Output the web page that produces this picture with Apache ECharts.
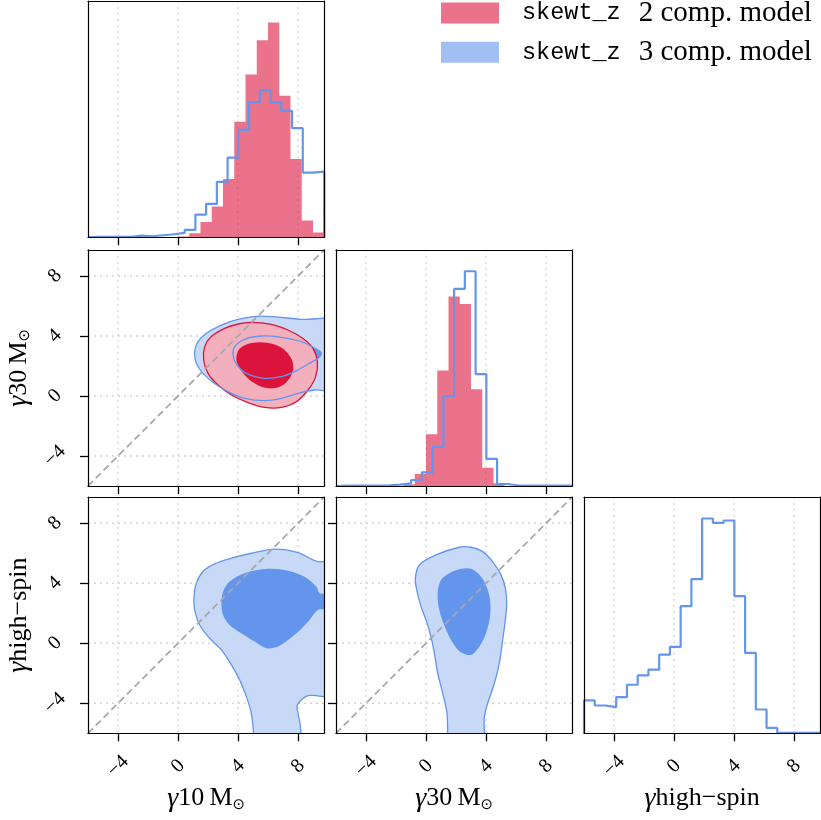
<!DOCTYPE html>
<html><head><meta charset="utf-8">
<script src="https://cdn.jsdelivr.net/npm/echarts@6/dist/echarts.min.js"></script>
<style>html,body{margin:0;padding:0;background:#fff}#c{width:821px;height:820px}</style>
</head><body><div id="c"></div>
<script>
// ---------------- data ----------------
const AX_MIN = -6, AX_MAX = 9.75;
const tickValues = [-4, 0, 4, 8];
const legendNames = ['skewt_z 2 comp. model', 'skewt_z 3 comp. model'];

// histogram heights (relative), red: 21 bins, blue: 22 bins over [AX_MIN, AX_MAX]
const redHist10  = [0,0,0,0,0,0,0,0,2,12,46,92,175,346,488,591,644,424,235,50,14];
const blueHist10 = [1.5,1.5,1.5,1.5,5,3,6,9,13,22,68,100,166,239,322,405,441,405,379,327,194,197];
const redHist30  = [0,0,0,0,0,0,5,36,155,346,567,545,290,55,8,0,0,0,0,0,0];
const blueHist30 = [1,1,1,1,2,4,8,18,41,117,269,590,643,335,81,6,1.5,1,1,1,1,1];
const blueHistHS = [98,83,78,108,145,173,190,235,258,380,461,642,629,636,410,240,71,16,1,1,1,1];

// 2D credible-region contours [x, y]
const blueOuter_10_30 = [[10.9,4.93],[8.22,5.11],[5.56,5.33],[4.0,5.11],[2.89,4.73],[1.89,4.18],[1.33,3.62],[1.11,2.96],[1.22,2.18],[1.67,1.51],[2.44,0.84],[3.33,0.29],[4.44,-0.16],[5.78,-0.31],[6.89,-0.16],[8.0,0.18],[9.11,0.40],[10.9,0.44]];
const blueInner_10_30 = [[4.44,3.78],[5.56,4.0],[6.89,3.91],[8.22,3.62],[9.33,3.07],[9.56,2.84],[9.33,2.51],[8.67,2.13],[7.78,1.62],[6.89,1.29],[5.78,1.18],[4.56,1.51],[3.89,2.13],[3.67,2.73],[3.78,3.29]];
const redOuter_10_30 = [[4.89,4.91],[6.22,4.78],[7.33,4.40],[8.33,3.84],[9.0,3.18],[9.29,2.29],[9.18,1.29],[8.67,0.40],[7.89,-0.38],[6.89,-0.76],[5.78,-0.76],[4.67,-0.44],[3.56,0.07],[2.67,0.73],[2.0,1.51],[1.71,2.40],[1.78,3.29],[2.22,3.96],[3.11,4.51],[4.0,4.80]];
const redInner_10_30 = [[5.44,3.58],[6.44,3.44],[7.11,3.07],[7.6,2.40],[7.67,1.73],[7.44,1.18],[7.0,0.73],[6.33,0.51],[5.56,0.62],[4.78,1.07],[4.18,1.73],[3.89,2.40],[4.04,3.07],[4.56,3.44]];
const blueOuter_10_HS = [[10.89,5.38],[9.33,5.44],[8.0,6.04],[6.44,6.27],[4.89,6.0],[3.56,5.67],[2.44,5.29],[1.67,4.78],[1.22,4.0],[1.07,3.11],[1.11,2.22],[1.44,1.22],[2.11,0.33],[2.89,-0.44],[3.56,-1.44],[4.11,-2.44],[4.56,-3.56],[4.89,-4.67],[5.04,-6.0],[5.11,-7.3],[8.11,-7.3],[8.16,-5.56],[8.0,-4.67],[7.96,-4.11],[8.67,-3.49],[10.89,-3.44]];
const blueInner_10_HS = [[4.44,4.67],[6.0,4.96],[7.33,4.84],[8.44,4.44],[9.22,3.78],[9.44,3.33],[10.0,3.22],[10.0,2.33],[9.33,2.22],[8.67,1.44],[7.78,0.56],[6.67,-0.22],[5.89,-0.33],[5.11,0.11],[4.22,0.67],[3.44,1.22],[3.0,1.89],[2.89,2.67],[3.0,3.44],[3.44,4.11]];
const blueOuter_30_HS = [[-0.71,4.33],[-0.44,5.22],[0.67,5.89],[2.22,6.40],[3.0,6.40],[3.78,6.11],[4.44,5.44],[5.0,4.56],[5.29,3.67],[5.38,2.67],[5.29,1.56],[5.11,0.22],[4.89,-1.33],[4.56,-2.67],[4.11,-4.0],[3.89,-4.89],[3.89,-6.0],[3.89,-7.3],[1.44,-7.3],[1.44,-6.0],[1.4,-4.67],[1.11,-3.33],[0.78,-2.0],[0.56,-0.67],[0.33,0.44],[0.04,1.44],[-0.33,2.44],[-0.62,3.56]];
const blueInner_30_HS = [[1.56,4.67],[2.33,4.96],[3.0,4.96],[3.56,4.56],[4.0,3.89],[4.27,2.89],[4.27,1.78],[4.0,0.67],[3.56,-0.22],[3.0,-0.78],[2.27,-0.56],[1.67,0.22],[1.16,1.33],[0.84,2.44],[0.78,3.44],[1.0,4.22]];

// ---------------- style / layout ----------------
const SERIF = 'Liberation Serif';
const RED_HIST = 'rgba(220,20,60,0.6)';
const BLUE_HIST = 'rgba(100,149,237,0.6)';
const BLUE = '#6495ed', CRIMSON = '#dc143c';
const RED_LIGHT = 'rgb(243,175,188)', BLUE_LIGHT = 'rgb(199,217,246)';
const PW = 236.25;
const gridPos = [[88,1],[88,249.75],[336,249.75],[88,497],[336,497],[584,497]];

const nameRich = {
  g:{fontFamily:SERIF, fontStyle:'italic', fontSize:28, color:'#000'},
  t:{fontFamily:SERIF, fontSize:26, color:'#000'},
  o:{fontFamily:'DejaVu Sans', fontSize:15, color:'#000', verticalAlign:'bottom', lineHeight:15}
};
const NAME10 = '{g|γ}{t|10\u2009M}{o|⊙}';
const NAME30 = '{g|γ}{t|30\u2009M}{o|⊙}';
const NAMEHS = '{g|γ}{t|high\u2212spin}';
const fmt = v => (v < 0 ? '\u2212' + Math.abs(v) : String(v));

const xAxes = [], yAxes = [], series = [];

function addAxes(gi, o) {
  const line = {show:true, onZero:false, lineStyle:{color:'#000', width:1.2}};
  const lab = (show) => ({show:!!show, customValues:tickValues, rotate:45, margin:33, align:'center', verticalAlign:'middle',
      formatter:fmt, fontFamily:SERIF, fontSize:20, color:'#000'});
  xAxes.push({type:'value', gridIndex:gi, min:AX_MIN, max:AX_MAX, position:'bottom', z:10,
    axisLine:line,
    axisTick:{show:true, customValues:tickValues, length:8, lineStyle:{color:'#000', width:1.3}},
    axisLabel:lab(o.xLabels),
    splitLine:{show:false},
    name:o.xName || '', nameLocation:'middle', nameGap:51,
    nameTextStyle:{fontFamily:SERIF, fontSize:26, color:'#000', rich:nameRich}});
  xAxes.push({type:'value', gridIndex:gi, min:AX_MIN, max:AX_MAX, position:'top', z:10,
    axisLine:line, axisTick:{show:false}, axisLabel:{show:false}, splitLine:{show:false}});
  if (o.hist) {
    yAxes.push({type:'value', gridIndex:gi, min:0, max:o.ymax, position:'left', z:10,
      axisLine:line, axisTick:{show:false}, axisLabel:{show:false}, splitLine:{show:false}});
  } else {
    yAxes.push({type:'value', gridIndex:gi, min:AX_MIN, max:AX_MAX, position:'left', z:10,
      axisLine:line,
      axisTick:{show:true, customValues:tickValues, length:8, lineStyle:{color:'#000', width:1.3}},
      axisLabel:lab(o.yLabels),
      splitLine:{show:false},
      name:o.yName || '', nameLocation:'middle', nameGap:55, nameRotate:90,
      nameTextStyle:{fontFamily:SERIF, fontSize:26, color:'#000', rich:nameRich}});
  }
  yAxes.push({type:'value', gridIndex:gi, min:o.hist ? 0 : AX_MIN, max:o.hist ? o.ymax : AX_MAX, position:'right', z:10,
    axisLine:line, axisTick:{show:false}, axisLabel:{show:false}, splitLine:{show:false}});
}

function gridLines(gi, is2D) {
  series.push({type:'custom', xAxisIndex:2*gi, yAxisIndex:2*gi, z:1, silent:true, clip:true,
    data:tickValues.map(v => [v, is2D ? v : 0]),
    renderItem:(params, api) => {
      const cs = params.coordSys;
      const p = api.coord([api.value(0), api.value(1)]);
      const st = {stroke:'#d4d4d4', lineWidth:1.3, lineDash:[2,4]};
      const ch = [{type:'line', shape:{x1:p[0], y1:cs.y, x2:p[0], y2:cs.y + cs.height}, style:st}];
      if (is2D) ch.push({type:'line', shape:{x1:cs.x, y1:p[1], x2:cs.x + cs.width, y2:p[1]}, style:st});
      return {type:'group', children:ch};
    }});
}

function poly(gi, pts, style, z) {
  series.push({type:'custom', xAxisIndex:2*gi, yAxisIndex:2*gi, z:z, silent:true, clip:true,
    data:pts,
    renderItem:(params, api) => {
      if (params.dataIndex !== 0) return null;
      const points = pts.map(p => api.coord(p));
      return {type:'polygon', shape:{points:points, smooth:0.3}, style:style};
    }});
}

function stepPoints(counts) {
  const w = (AX_MAX - AX_MIN) / counts.length;
  const pts = [[AX_MIN, 0]];
  counts.forEach((c, i) => { pts.push([AX_MIN + i*w, c]); pts.push([AX_MIN + (i+1)*w, c]); });
  pts.push([AX_MAX, 0]);
  return pts;
}

function redBars(gi, counts) {
  const pts = stepPoints(counts);
  series.push({type:'custom', name:legendNames[0], xAxisIndex:2*gi, yAxisIndex:2*gi, z:2, clip:true, silent:true,
    itemStyle:{color:RED_HIST},
    data:pts,
    renderItem:(params, api) => {
      if (params.dataIndex !== 0) return null;
      return {type:'polygon', shape:{points:pts.map(p => api.coord(p))}, style:{fill:RED_HIST}};
    }});
}

function blueStep(gi, counts) {
  series.push({type:'line', name:legendNames[1], xAxisIndex:2*gi, yAxisIndex:2*gi, z:3, silent:true,
    data:stepPoints(counts), showSymbol:false, symbol:'none', clip:true,
    itemStyle:{color:BLUE}, lineStyle:{color:BLUE, width:2.2}});
}

function diag(gi) {
  series.push({type:'line', xAxisIndex:2*gi, yAxisIndex:2*gi, z:5, silent:true,
    data:[[AX_MIN, AX_MIN], [AX_MAX, AX_MAX]], showSymbol:false, symbol:'none',
    lineStyle:{color:'#a8a8a8', width:1.8, type:[7,4]}});
}

const histMax = (...arrs) => 1.1 * Math.max(...arrs.flat());

// panel 0: gamma10 histogram
addAxes(0, {hist:true, ymax:histMax(redHist10, blueHist10)});
gridLines(0, false); redBars(0, redHist10); blueStep(0, blueHist10);
// panel 1: gamma10 vs gamma30
addAxes(1, {yLabels:true, yName:NAME30});
gridLines(1, true);
poly(1, blueOuter_10_30, {fill:BLUE_LIGHT}, 2);
poly(1, blueInner_10_30, {fill:BLUE}, 2);
poly(1, redOuter_10_30, {fill:RED_LIGHT}, 2);
poly(1, redInner_10_30, {fill:CRIMSON}, 2);
poly(1, redOuter_10_30, {fill:'none', stroke:CRIMSON, lineWidth:1.3}, 3);
poly(1, blueOuter_10_30, {fill:'none', stroke:BLUE, lineWidth:1.3}, 3);
poly(1, blueInner_10_30, {fill:'none', stroke:BLUE, lineWidth:1.3}, 3);
diag(1);
// panel 2: gamma30 histogram
addAxes(2, {hist:true, ymax:histMax(redHist30, blueHist30)});
gridLines(2, false); redBars(2, redHist30); blueStep(2, blueHist30);
// panel 3: gamma10 vs gamma high-spin
addAxes(3, {xLabels:true, yLabels:true, xName:NAME10, yName:NAMEHS});
gridLines(3, true);
poly(3, blueOuter_10_HS, {fill:BLUE_LIGHT}, 2);
poly(3, blueInner_10_HS, {fill:BLUE}, 2);
poly(3, blueOuter_10_HS, {fill:'none', stroke:BLUE, lineWidth:1.3}, 3);
diag(3);
// panel 4: gamma30 vs gamma high-spin
addAxes(4, {xLabels:true, xName:NAME30});
gridLines(4, true);
poly(4, blueOuter_30_HS, {fill:BLUE_LIGHT}, 2);
poly(4, blueInner_30_HS, {fill:BLUE}, 2);
poly(4, blueOuter_30_HS, {fill:'none', stroke:BLUE, lineWidth:1.3}, 3);
diag(4);
// panel 5: gamma high-spin histogram
addAxes(5, {hist:true, xLabels:true, xName:NAMEHS, ymax:histMax(blueHistHS)});
gridLines(5, false); blueStep(5, blueHistHS);

const chart = echarts.init(document.getElementById('c'), null, {renderer:'canvas'});
chart.setOption({
  animation:false,
  backgroundColor:'#fff',
  grid:gridPos.map(p => ({left:p[0], top:p[1], width:PW, height:PW, containLabel:false})),
  xAxis:xAxes, yAxis:yAxes,
  legend:{
    left:441, top:-1.5, padding:0, orient:'vertical', itemWidth:58, itemHeight:21, itemGap:10.3,
    selectedMode:false,
    data:[{name:legendNames[0], icon:'rect', itemStyle:{color:RED_HIST}},
          {name:legendNames[1], icon:'rect', itemStyle:{color:BLUE_HIST}}],
    formatter:name => {
      const parts = name.split(' ');
      return '{sp|}{m|' + parts[0] + '}{gap|}{s|' + parts.slice(1).join(' ') + '}';
    },
    textStyle:{color:'#000', lineHeight:21, rich:{
      sp:{width:18},
      m:{fontFamily:'Liberation Mono', fontSize:23.5, color:'#000', lineHeight:21},
      gap:{width:18},
      s:{fontFamily:SERIF, fontSize:29, color:'#000', lineHeight:21}
    }}
  },
  series:series
});
</script></body></html>
